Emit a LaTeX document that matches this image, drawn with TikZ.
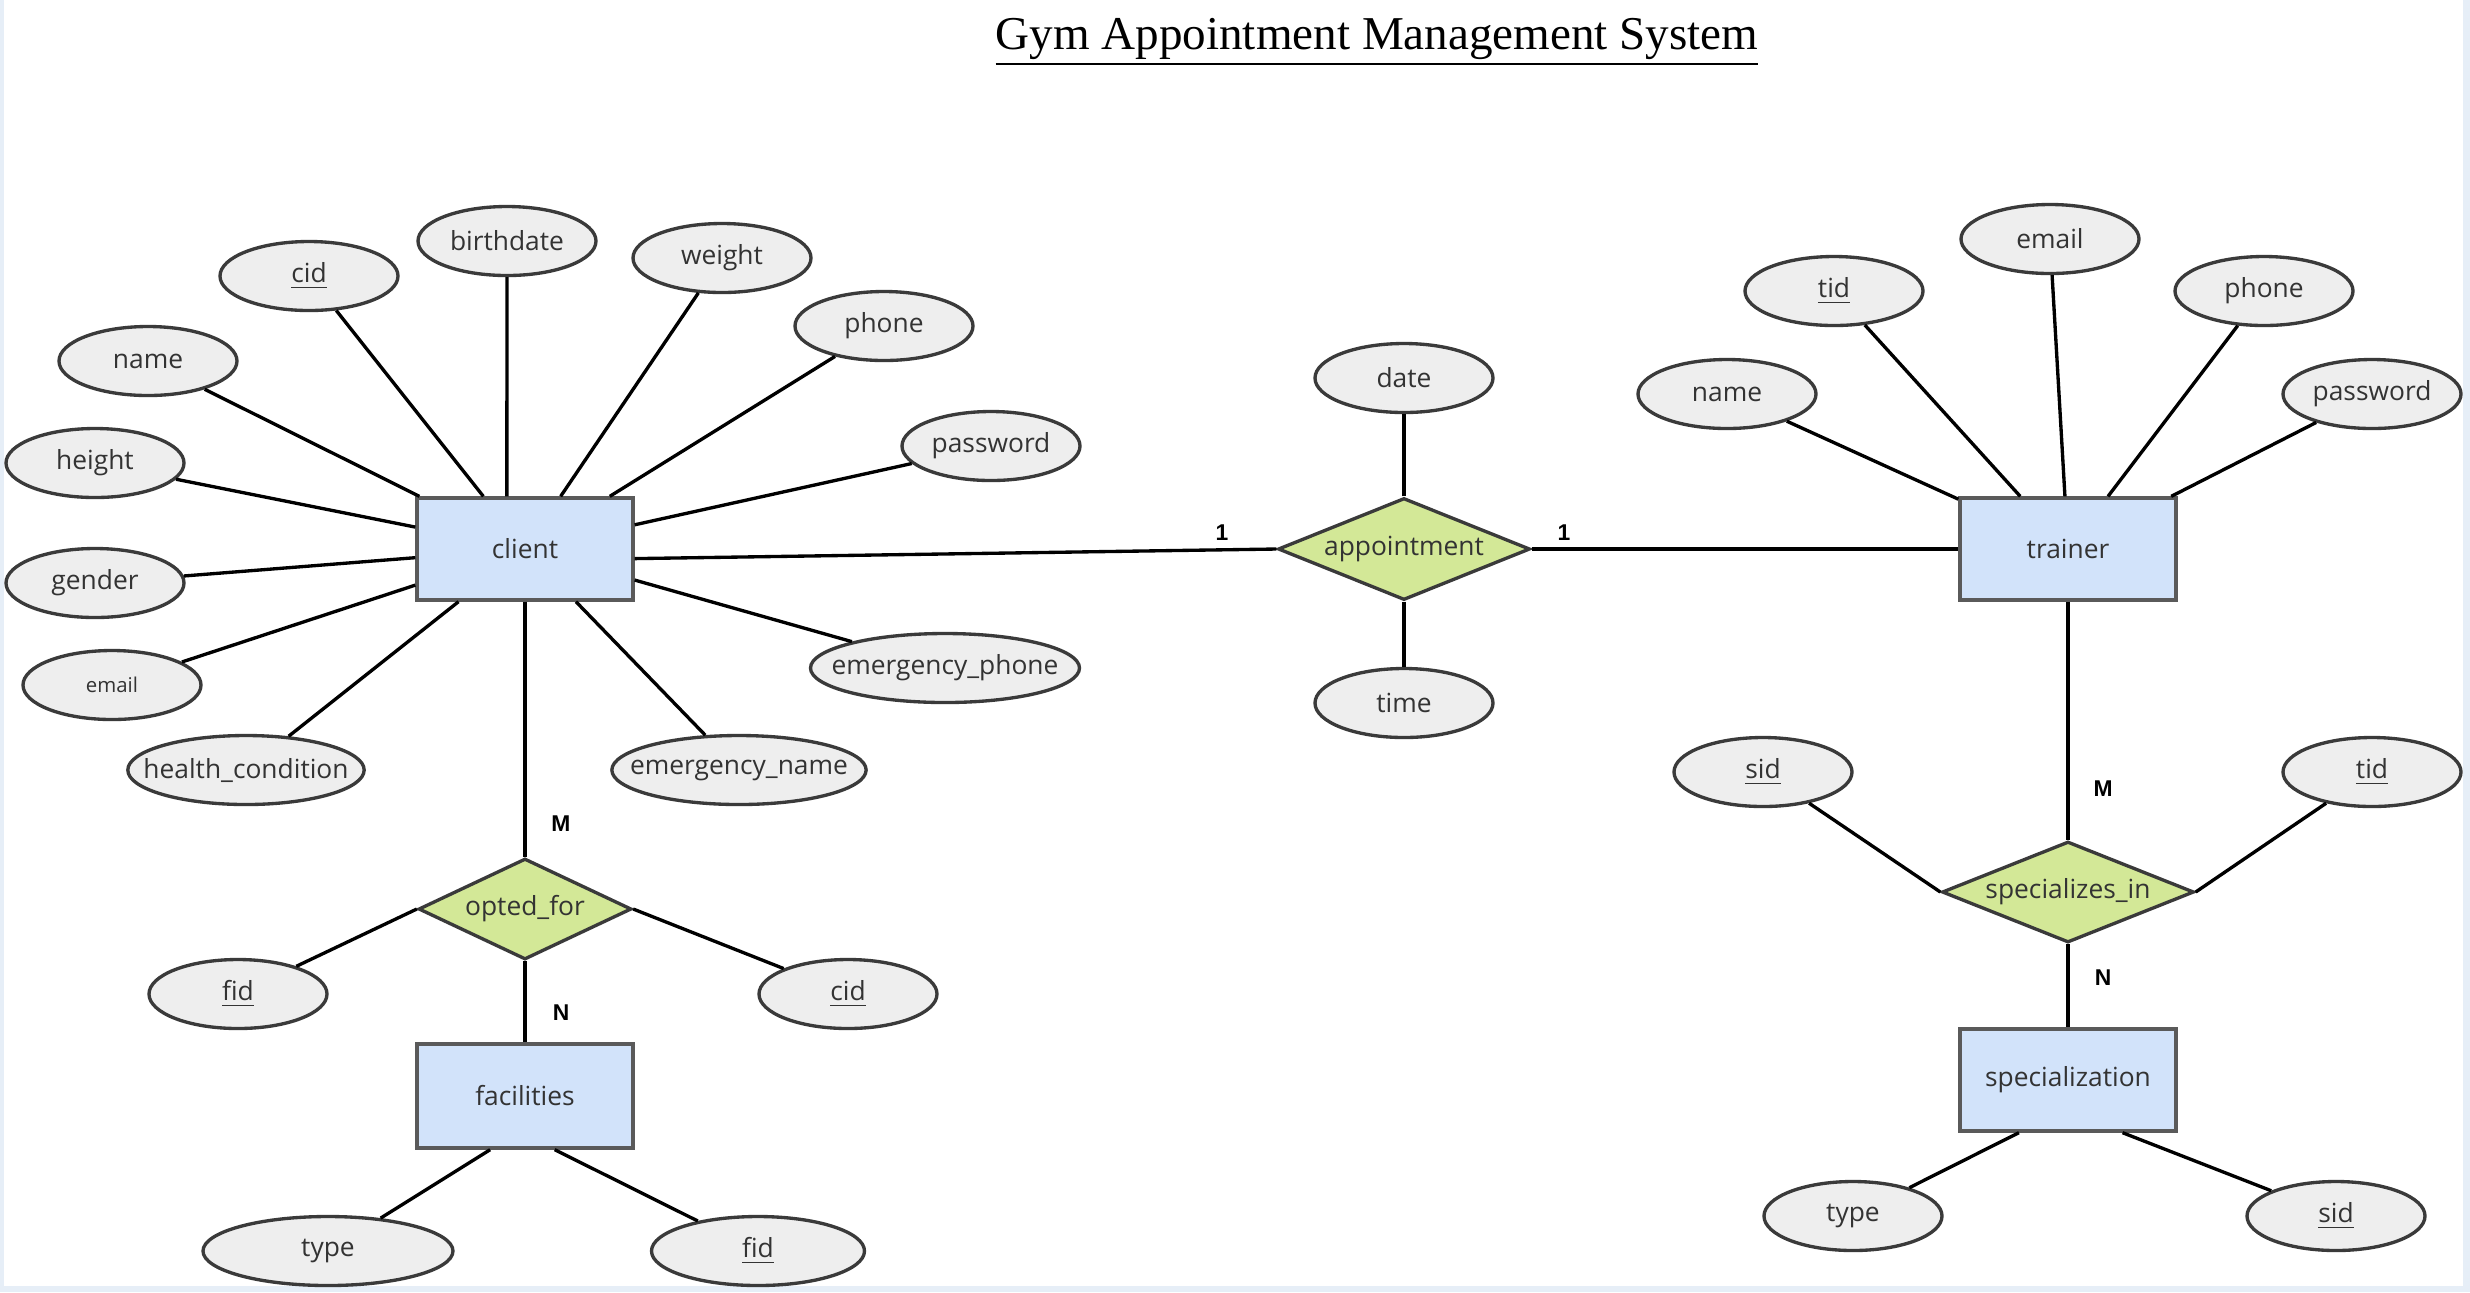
\documentclass[tikz,border=0pt]{standalone}
\usepackage{fontspec}
\setmainfont{Open Sans}
\newfontfamily\titlefont{Liberation Serif}
\newfontfamily\cardfont{Liberation Sans}
\usetikzlibrary{shapes.geometric}
\definecolor{entfill}{HTML}{D2E3FA}
\definecolor{entdraw}{HTML}{5A5A5A}
\definecolor{relfill}{HTML}{D3E897}
\definecolor{attfill}{HTML}{EEEEEE}
\definecolor{attdraw}{HTML}{3A3A3A}
\definecolor{framebg}{HTML}{E6EEF7}
\definecolor{txt}{HTML}{333333}

\begin{document}
\begin{tikzpicture}
  [x=1cm,y=-1cm,line width=0.95pt,
   every node/.style={text=txt,font=\fontsize{7.5}{9}\selectfont},
   entity/.style={rectangle,draw=entdraw,fill=entfill,minimum width=2.16cm,minimum height=1.02cm},
   rel/.style={diamond,draw=attdraw,fill=relfill,inner sep=0pt,shape aspect=2.5,minimum width=2.52cm,minimum height=1.02cm},
   attrib/.style={ellipse,draw=attdraw,fill=attfill,inner xsep=-0.19cm,inner ysep=0pt,minimum width=1.78cm,minimum height=0.69cm},
   card/.style={font=\cardfont\bfseries\fontsize{6.5}{8}\selectfont,text=black}]
  \useasboundingbox (0,0) rectangle (24.70,12.92);
  \fill[framebg] (0,0) rectangle (24.70,12.92);
  \fill[white] (0.04,0) rectangle (24.63,12.86);

  \node[anchor=base,font=\titlefont\fontsize{13.4}{16}\selectfont,text=black] (title) at (13.77,0.49) {\underline{Gym Appointment Management System}};

  \node[entity] (client)  at (5.25,5.49)  {client};
  \node[entity] (trainer) at (20.68,5.49) {trainer};
  \node[entity,minimum height=1.04cm] (facil) at (5.25,10.96) {facilities};
  \node[entity] (spec)    at (20.68,10.80) {specialization};

  \node[rel] (appt)   at (14.04,5.49) {appointment};
  \node[rel,minimum width=2.13cm,minimum height=1.01cm,shape aspect=2.1] (optfor) at (5.25,9.09) {opted\_for};
  \node[rel,minimum height=1.01cm] (specin) at (20.68,8.92) {specializes\_in};

  \node[attrib] (c-cid)    at (3.09,2.76) {\underline{cid}};
  \node[attrib] (c-bdate)  at (5.07,2.41) {birthdate};
  \node[attrib] (c-weight) at (7.22,2.58) {weight};
  \node[attrib] (c-phone)  at (8.84,3.26) {phone};
  \node[attrib] (c-pwd)    at (9.91,4.46) {password};
  \node[attrib] (c-name)   at (1.48,3.61) {name};
  \node[attrib] (c-height) at (0.95,4.63) {height};
  \node[attrib] (c-gender) at (0.95,5.83) {gender};
  \node[attrib,font=\fontsize{5.8}{7}\selectfont] (c-email) at (1.12,6.85) {email};
  \node[attrib,minimum width=2.33cm] (c-health) at (2.46,7.70) {health\_condition};
  \node[attrib,minimum width=2.50cm] (c-ename)  at (7.39,7.70) {emergency\_name};
  \node[attrib,minimum width=2.69cm] (c-ephone) at (9.45,6.68) {emergency\_phone};

  \node[attrib] (a-date) at (14.04,3.78) {date};
  \node[attrib] (a-time) at (14.04,7.03) {time};

  \node[attrib] (t-tid)   at (18.34,2.91) {\underline{tid}};
  \node[attrib] (t-email) at (20.50,2.39) {email};
  \node[attrib] (t-phone) at (22.64,2.91) {phone};
  \node[attrib] (t-name)  at (17.27,3.94) {name};
  \node[attrib] (t-pwd)   at (23.72,3.94) {password};

  \node[attrib] (si-sid) at (17.63,7.72) {\underline{sid}};
  \node[attrib] (si-tid) at (23.72,7.72) {\underline{tid}};
  \node[attrib] (sp-type) at (18.53,12.16) {type};
  \node[attrib] (sp-sid)  at (23.36,12.16) {\underline{sid}};

  \node[attrib] (of-fid) at (2.38,9.94) {\underline{fid}};
  \node[attrib] (of-cid) at (8.48,9.94) {\underline{cid}};
  \node[attrib,minimum width=2.50cm] (f-type) at (3.28,12.51) {type};
  \node[attrib,minimum width=2.13cm] (f-fid)  at (7.58,12.51) {\underline{fid}};

  \node[card] (card-ca) at (12.22,5.33) {1};
  \node[card] (card-at) at (15.64,5.33) {1};
  \node[card] (card-co) at (5.61,8.24)  {M};
  \node[card] (card-of) at (5.61,10.13) {N};
  \node[card] (card-ts) at (21.03,7.89) {M};
  \node[card] (card-ss) at (21.03,9.78) {N};

  \foreach \from/\to in {client/c-cid, client.109/c-bdate, client/c-weight, client/c-phone, client/c-pwd,
      client/c-name, client/c-height, client/c-gender, client/c-email, client/c-health, client/c-ename,
      client/c-ephone, client.355/appt.west, client/optfor, optfor.west/of-fid, optfor.east/of-cid,
      optfor/facil, facil.237/f-type, facil.299/f-fid, appt/a-date, appt/a-time, appt.east/trainer,
      trainer/t-tid, trainer/t-email, trainer/t-phone, trainer/t-name, trainer/t-pwd, trainer/specin,
      specin.west/si-sid, specin.east/si-tid, specin/spec, spec.227/sp-type, spec.316/sp-sid}
    \draw (\from) -- (\to);
\end{tikzpicture}
\end{document}
